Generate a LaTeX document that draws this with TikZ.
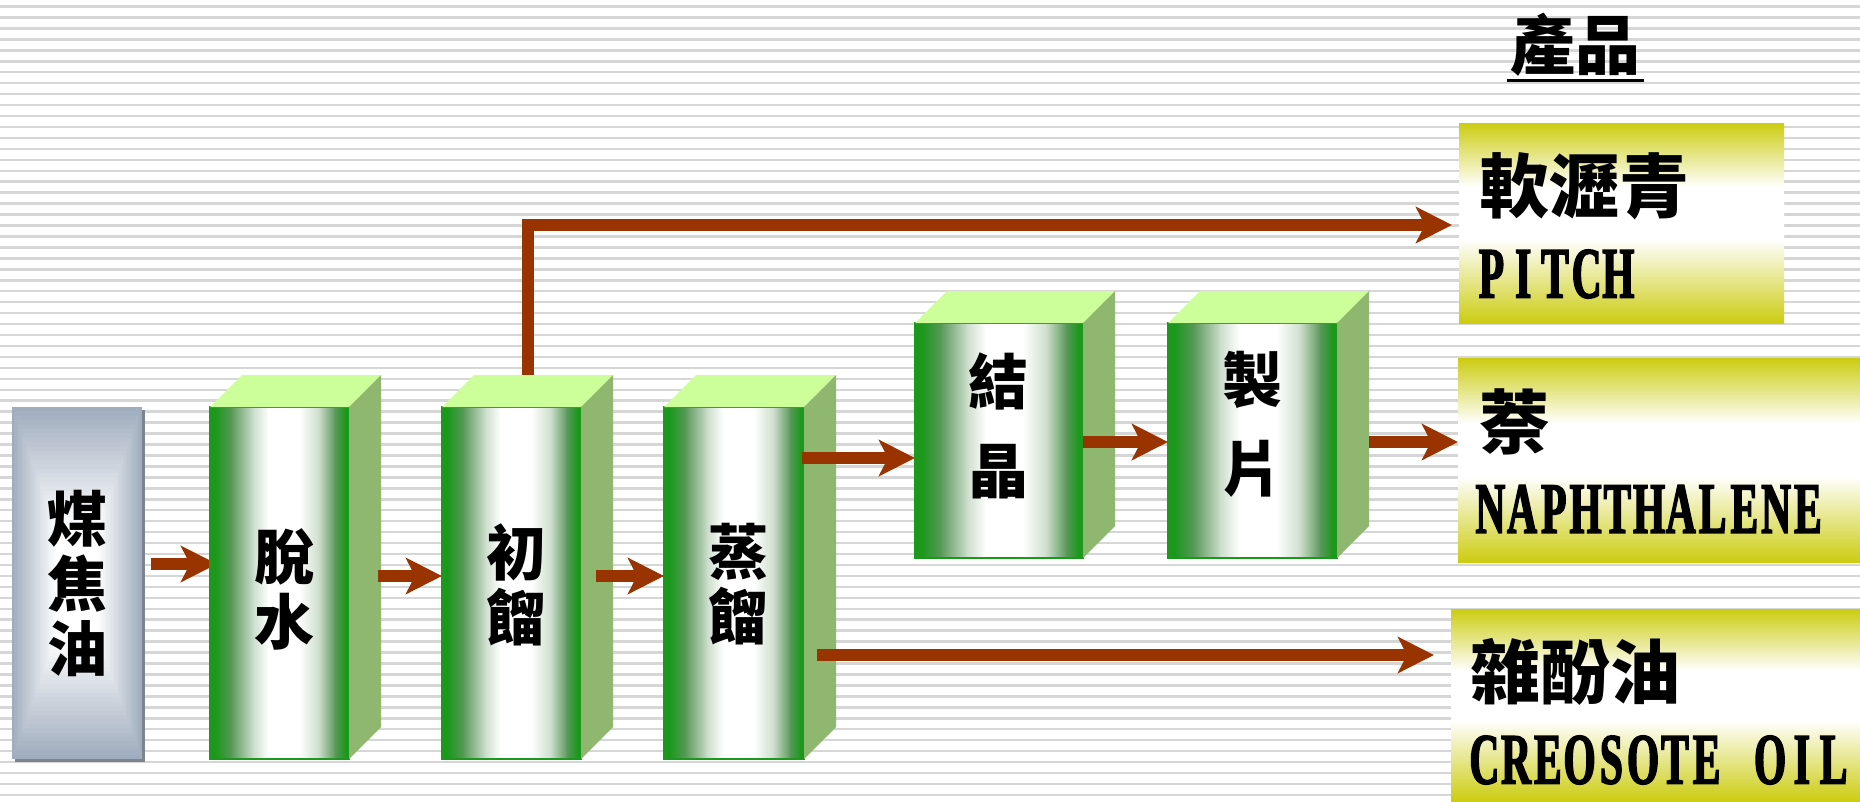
\documentclass[tikz,border=0pt]{standalone}
\usepackage{fontspec}
\newfontfamily\cjk{Noto Sans CJK TC}
\newfontfamily\latn{Liberation Serif}[FakeStretch=0.57, FakeBold=2]
\usetikzlibrary{arrows.meta,calc}
\makeatletter
\newcommand\monotxt[1]{\@tfor\mch:=#1\do{\makebox[12.7pt]{\mch}}}
\makeatother
\definecolor{arrowc}{RGB}{153,51,0}
\definecolor{colg}{RGB}{28,152,28}
\definecolor{colm}{RGB}{88,152,88}
\definecolor{coll}{RGB}{205,222,205}
\definecolor{topg}{RGB}{204,255,153}
\definecolor{sideg}{RGB}{143,183,112}
\definecolor{prody}{RGB}{204,204,17}
\definecolor{coalg}{RGB}{160,173,190}
\definecolor{coalsh}{RGB}{125,132,142}
\definecolor{stripec}{RGB}{214,214,214}
\pgfdeclareverticalshading{prodshade}{100bp}{color(0bp)=(prody); color(25bp)=(prody); color(46bp)=(white); color(59bp)=(white); color(75bp)=(prody); color(100bp)=(prody)}
\newcommand\colfaces[1]{%
  \foreach \ua/\ub/\ca/\cb in {0/0.045/colg/colg, 0.04/0.155/colg/colm, 0.15/0.315/colm/coll, 0.31/0.425/coll/white, 0.42/0.645/white/white, 0.64/0.785/white/coll, 0.78/0.905/coll/colm, 0.90/0.975/colm/colg, 0.97/1/colg/colg}
    \shade[left color=\ca, right color=\cb] ($(#1.south west)!\ua!(#1.south east)$) rectangle ($(#1.north west)!\ub!(#1.north east)$);
  \draw[colg, line width=0.8pt] (#1.south west) rectangle (#1.north east);
  \fill[topface] (#1.north west) -- ([shift={(32,-32)}]#1.north west) -- ([shift={(32,-32)}]#1.north east) -- (#1.north east) -- cycle;
  \fill[sideface] (#1.north east) -- ([shift={(32,-32)}]#1.north east) -- ([shift={(32,-32)}]#1.south east) -- (#1.south east) -- cycle;}
\tikzset{
  stripe/.style={draw=stripec, line width=1pt},
  colfront/.style={rectangle, inner sep=0, outer sep=0},
  topface/.style={fill=topg},
  sideface/.style={fill=sideg},
  prodbox/.style={rectangle, shade, shading=prodshade, inner sep=0, outer sep=0},
  arr/.style={draw=arrowc, line width=4.8pt, line join=miter, -{Stealth[length=14.4pt, width=14.4pt, inset=3.6pt]}},
  coltext/.style={font=\cjk\bfseries\fontsize{24pt}{26pt}\selectfont, align=center, inner sep=0},
  coltextw/.style={font=\cjk\bfseries\fontsize{24pt}{35.6pt}\selectfont, align=center, inner sep=0},
  prodcjk/.style={font=\cjk\bfseries\fontsize{28pt}{28pt}\selectfont, inner sep=0, anchor=west},
  prodlat/.style={font=\latn\bfseries\fontsize{29pt}{29pt}\selectfont, inner sep=0, anchor=west},
}
\begin{document}
\begin{tikzpicture}[x=0.4pt, y=-0.4pt]
\useasboundingbox (0,0) rectangle (1860,801);
\fill[white] (0,0) rectangle (1860,801);
\foreach \k in {0,...,73} \draw[stripe] (0,{6.5+10.95*\k}) -- (1860,{6.5+10.95*\k});
% product boxes
\node[prodbox, minimum width=130pt, minimum height=80pt] (pitch) at (1621.5,223) {};
\node[prodbox, minimum width=160.8pt, minimum height=81.6pt] (naph) at (1659,460) {};
\node[prodbox, minimum width=163.6pt, minimum height=76.8pt] (creo) at (1655.5,705) {};
% coal tar box
\node[minimum width=52pt, minimum height=140.8pt, inner sep=0, outer sep=0] (coal) at (77,583) {};
\fill[coalsh] ($(coal.south west)+(3,3)$) rectangle ($(coal.north east)+(3,3)$);
\foreach \i in {0,...,40} {
  \pgfmathsetmacro\f{1-\i/40}
  \pgfmathsetmacro\p{max(0,100-\i*100/27)}
  \fill[coalg!\p!white] ({77-65*\f},{583-176*\f}) rectangle ({77+65*\f},{583+176*\f});
}
\node[coltext] (coalt) at (77,583) {煤\\焦\\油};
% first arrow (tip hidden under the column)
\coordinate (a0) at (151,564);
\coordinate (a1) at (217,564);
\draw[arr] (a0) -- (a1);
% columns
\node[colfront, minimum width=55.6pt, minimum height=140.8pt] (dehyd) at (279.5,583) {};
\colfaces{dehyd}
\node[colfront, minimum width=55.6pt, minimum height=140.8pt] (dist1) at (511.5,583) {};
\colfaces{dist1}
\node[colfront, minimum width=56pt, minimum height=140.8pt] (dist2) at (734,583) {};
\colfaces{dist2}
\node[colfront, minimum width=67.2pt, minimum height=94pt] (cryst) at (999,440.5) {};
\colfaces{cryst}
\node[colfront, minimum width=67.6pt, minimum height=94pt] (flake) at (1252.5,440.5) {};
\colfaces{flake}
% arrows
\coordinate (b0) at (378,576);
\coordinate (c0) at (596,576);
\coordinate (d0) at (802,458);
\coordinate (e0) at (1083,442);
\coordinate (f0) at (1369,442);
\coordinate (g0) at (817,655);
\coordinate (h0) at (528,375);
\coordinate (h1) at (528,225);
\draw[arr] (b0) -- (dist1.west |- b0);
\draw[arr] (c0) -- (dist2.west |- c0);
\draw[arr] (d0) -- (cryst.west |- d0);
\draw[arr] (cryst.east |- e0) -- (flake.west |- e0);
\draw[arr] (f0) -- (naph.west |- f0);
\draw[arr] (g0) -- ($(creo.west |- g0)+(-17,0)$);
\draw[arr] (h0) -- (h1) -- ($(pitch.west |- h1)+(-7,0)$);
% column texts
\node[coltext] (dehydt) at (284,589) {脫\\水};
\node[coltext] (dist1t) at (516,585) {初\\餾};
\node[coltext] (dist2t) at (738,584) {蒸\\餾};
\node[coltextw] (crystt) at (998,426) {結\\晶};
\node[coltextw] (flaket) at (1252,424) {製\\片};
% header
\node[font=\cjk\bfseries\fontsize{26pt}{26pt}\selectfont, inner sep=0] (head) at (1575,45) {產品};
\draw[line width=1.2pt] ([yshift=-1.2pt,xshift=-1.2pt]head.south west) -- ([yshift=-1.2pt,xshift=1.2pt]head.south east);
% product texts
\node[prodcjk] (pitchzh) at (1479,186) {軟瀝青};
\node[prodlat] (pitchen) at (1475,274) {\monotxt{PITCH}};
\node[prodcjk] (naphzh) at (1479,422) {萘};
\node[prodlat] (naphen) at (1474,509) {\monotxt{NAPHTHALENE}};
\node[prodcjk] (creozh) at (1470,672) {雜酚油};
\node[prodlat] (creoen) at (1468,760) {\monotxt{CREOSOTE{ }OIL}};
\end{tikzpicture}
\end{document}
